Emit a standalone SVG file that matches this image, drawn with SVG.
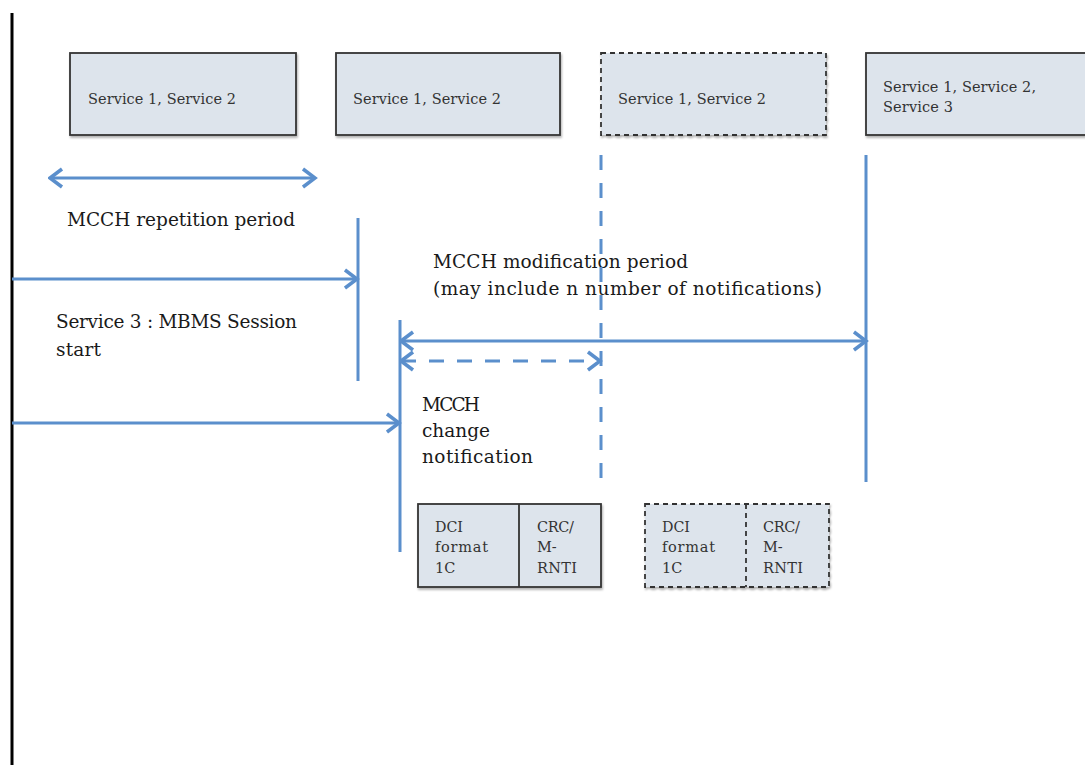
<svg xmlns="http://www.w3.org/2000/svg" width="1085" height="765" viewBox="0 0 1085 765">
<style>
.box{fill:#dde4ec;stroke:#333;stroke-width:1.8}
.dbox{fill:#dde4ec;stroke:#333;stroke-width:1.8;stroke-dasharray:5 4}
.st{font-family:"DejaVu Serif","Liberation Serif",serif;font-size:14.5px;fill:#333}
.lb{font-family:"DejaVu Serif","Liberation Serif",serif;font-size:18.5px;fill:#1a1a1a}
.sm{font-family:"DejaVu Serif","Liberation Serif",serif;font-size:14.5px;fill:#333}
.ln{stroke:#5b8fcc;stroke-width:3;fill:none}
.dl{stroke:#5b8fcc;stroke-width:3;fill:none;stroke-dasharray:15 13}
</style>
<defs>
<marker id="ae" markerWidth="16" markerHeight="22" refX="13" refY="11" orient="auto" markerUnits="userSpaceOnUse">
<polyline points="1,2 13,11 1,20" fill="none" stroke="#5b8fcc" stroke-width="3.5"/>
</marker>
<marker id="as" markerWidth="16" markerHeight="22" refX="2" refY="11" orient="auto" markerUnits="userSpaceOnUse">
<polyline points="14,2 2,11 14,20" fill="none" stroke="#5b8fcc" stroke-width="3.5"/>
</marker>
<filter id="sh" x="-5%" y="-5%" width="110%" height="115%">
<feDropShadow dx="1" dy="2" stdDeviation="1.2" flood-color="#000" flood-opacity="0.3"/>
</filter>
</defs>
<line x1="12" y1="13" x2="12" y2="765" stroke="#000" stroke-width="3"/>
<g id="node-box1"><rect class="box" x="70" y="53" width="226" height="82" filter="url(#sh)"/><text class="st" x="88" y="104" textLength="148" lengthAdjust="spacing">Service 1, Service 2</text></g>
<g id="node-box2"><rect class="box" x="336" y="53" width="224" height="82" filter="url(#sh)"/><text class="st" x="353" y="104" textLength="148" lengthAdjust="spacing">Service 1, Service 2</text></g>
<g id="node-box3"><rect class="dbox" x="601" y="53" width="225" height="82" filter="url(#sh)"/><text class="st" x="618" y="104" textLength="148" lengthAdjust="spacing">Service 1, Service 2</text></g>
<g id="node-box4"><rect class="box" x="866" y="53" width="225" height="82" filter="url(#sh)"/><text class="st" x="883" y="92" textLength="153" lengthAdjust="spacing">Service 1, Service 2,</text><text class="st" x="883" y="112" textLength="70" lengthAdjust="spacing">Service 3</text></g>
<g id="node-dci1"><rect class="box" x="418" y="504" width="183" height="83" filter="url(#sh)"/><line x1="519" y1="504" x2="519" y2="587" stroke="#333" stroke-width="1.8"/><text class="sm" x="435" y="532" textLength="28" lengthAdjust="spacingAndGlyphs">DCI</text><text class="sm" x="435" y="552" textLength="53" lengthAdjust="spacing">format</text><text class="sm" x="435" y="573">1C</text><text class="sm" x="537" y="532" textLength="37" lengthAdjust="spacing">CRC/</text><text class="sm" x="537" y="552">M-</text><text class="sm" x="537" y="573" textLength="40" lengthAdjust="spacing">RNTI</text></g>
<g id="node-dci2"><rect class="dbox" x="645" y="504" width="184" height="83" filter="url(#sh)"/><line x1="746" y1="504" x2="746" y2="587" stroke="#333" stroke-width="1.8" stroke-dasharray="5 4"/><text class="sm" x="662" y="532" textLength="28" lengthAdjust="spacingAndGlyphs">DCI</text><text class="sm" x="662" y="552" textLength="53" lengthAdjust="spacing">format</text><text class="sm" x="662" y="573">1C</text><text class="sm" x="763" y="532" textLength="37" lengthAdjust="spacing">CRC/</text><text class="sm" x="763" y="552">M-</text><text class="sm" x="763" y="573" textLength="40" lengthAdjust="spacing">RNTI</text></g>
<g id="labels">
<text class="lb" x="67" y="226" textLength="228" lengthAdjust="spacing">MCCH repetition period</text>
<text class="lb" x="433" y="268" textLength="255" lengthAdjust="spacing">MCCH modification period</text>
<text class="lb" x="433" y="295" textLength="389" lengthAdjust="spacing">(may include n number of notifications)</text>
<text class="lb" x="56" y="328" textLength="241" lengthAdjust="spacing">Service 3 : MBMS Session</text>
<text class="lb" x="56" y="356" textLength="45" lengthAdjust="spacing">start</text>
<text class="lb" x="422" y="411" textLength="58" lengthAdjust="spacing">MCCH</text>
<text class="lb" x="422" y="437" textLength="68" lengthAdjust="spacing">change</text>
<text class="lb" x="422" y="463" textLength="111" lengthAdjust="spacing">notification</text>
</g>
<g id="connectors">
<line class="ln" x1="50" y1="178" x2="315" y2="178" marker-start="url(#as)" marker-end="url(#ae)"/>
<line class="ln" x1="358" y1="218" x2="358" y2="381"/>
<line class="ln" x1="12" y1="279" x2="357" y2="279" marker-end="url(#ae)"/>
<line class="ln" x1="400" y1="320" x2="400" y2="552"/>
<line class="ln" x1="401" y1="341" x2="866" y2="341" marker-start="url(#as)" marker-end="url(#ae)"/>
<line class="dl" x1="401" y1="361" x2="600" y2="361" marker-start="url(#as)" marker-end="url(#ae)"/>
<line class="ln" x1="12" y1="423" x2="399" y2="423" marker-end="url(#ae)"/>
<line class="dl" x1="601" y1="155" x2="601" y2="482" stroke-dasharray="15 10"/>
<line class="ln" x1="866" y1="155" x2="866" y2="482"/>
</g>
</svg>
